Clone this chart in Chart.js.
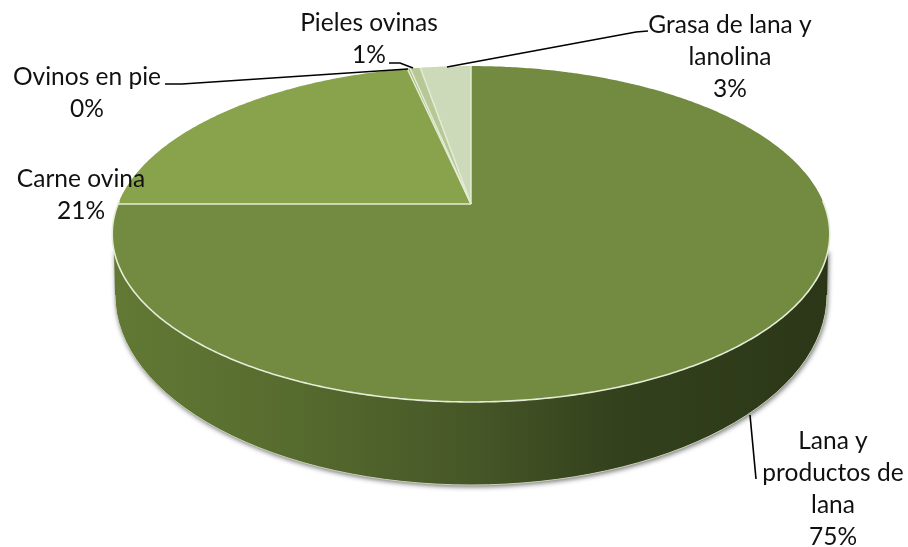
<!DOCTYPE html>
<html>
<head>
<meta charset="utf-8">
<title>Productos ovinos</title>
<script src="https://cdn.jsdelivr.net/npm/chart.js@4/dist/chart.umd.min.js"></script>
<style>
  html, body { margin: 0; padding: 0; background: #fff; }
  canvas { display: block; }
</style>
</head>
<body>
<canvas id="pie" width="908" height="547"></canvas>
<script>
// valores (en %), desde las 12 en sentido horario
const categories = ["Lana y productos de lana", "Carne ovina", "Ovinos en pie", "Pieles ovinas", "Grasa de lana y lanolina"];
const values = [75, 21.6, 0.15, 0.55, 2.7];
const percentLabels = ["75%", "21%", "0%", "1%", "3%"];
const sliceColors = ["#728b40", "#88a34b", "#a9bd7c", "#b7c896", "#cddab9"];

// etiquetas: lineas de texto y posicion (x centro, y base)
const labelLines = [
  ["Lana y", "productos de", "lana"],
  ["Carne ovina"],
  ["Ovinos en pie"],
  ["Pieles ovinas"],
  ["Grasa de lana y", "lanolina"]
];
const labelAnchors = [[833, 449], [81, 187], [87, 85], [369, 31], [730, 33]];
const lineHeight = 32;
const leaders = [
  [[750, 415], [756, 479]],
  [],
  [[165, 84], [182, 84], [408, 69]],
  [[389, 63], [400, 63], [413, 68]],
  [[447, 67], [636, 32], [648, 31]]
];

// proyeccion en perspectiva de la cara superior
const top3d = { cx: 471, cy: 204, a: 353, b: 162.6, k: 0.1786 };
// borde inferior del cilindro
const base3d = { cx: 471, cy: 295, rx: 356, ry: 190, rimY: 250 };

function project(angle) {
  const u = Math.cos(angle), v = Math.sin(angle);
  const w = 1 - top3d.k * v;
  return [top3d.cx + top3d.a * u / w, top3d.cy + top3d.b * v / w];
}

function traceRim(ctx, start, end, moveFirst) {
  const steps = Math.max(2, Math.ceil((end - start) / 0.01));
  for (let i = 0; i <= steps; i++) {
    const p = project(start + (end - start) * i / steps);
    if (i === 0 && moveFirst) ctx.moveTo(p[0], p[1]);
    else ctx.lineTo(p[0], p[1]);
  }
}

function drawSide(ctx) {
  const b = base3d;
  const grad = ctx.createLinearGradient(b.cx - b.rx, 0, b.cx + b.rx, 0);
  grad.addColorStop(0, "#627935");
  grad.addColorStop(0.25, "#566b2e");
  grad.addColorStop(0.5, "#465727");
  grad.addColorStop(0.7, "#34411d");
  grad.addColorStop(1, "#2b3717");

  ctx.save();
  ctx.beginPath();
  ctx.moveTo(b.cx - b.rx - 1, b.rimY);
  ctx.lineTo(b.cx - b.rx, b.cy);
  ctx.ellipse(b.cx, b.cy, b.rx, b.ry, 0, Math.PI, 0, true);
  ctx.lineTo(b.cx + b.rx + 1, b.rimY);
  ctx.closePath();
  ctx.shadowColor = "rgba(0,0,0,0.55)";
  ctx.shadowBlur = 5;
  ctx.shadowOffsetX = 1;
  ctx.shadowOffsetY = 2;
  ctx.fillStyle = grad;
  ctx.fill();
  ctx.restore();

  ctx.beginPath();
  ctx.moveTo(b.cx - b.rx, b.cy);
  ctx.ellipse(b.cx, b.cy, b.rx, b.ry, 0, Math.PI, 0, true);
  ctx.strokeStyle = "#c9d0b8";
  ctx.lineWidth = 1;
  ctx.stroke();
}

const pie3dPlugin = {
  id: "pie3d",
  beforeDatasetDraw(chart, args) {
    const ctx = chart.ctx;
    const arcs = chart.getDatasetMeta(args.index).data;
    drawSide(ctx);

    arcs.forEach((arc, i) => {
      ctx.beginPath();
      ctx.moveTo(top3d.cx, top3d.cy);
      traceRim(ctx, arc.startAngle, arc.endAngle, false);
      ctx.closePath();
      ctx.fillStyle = sliceColors[i];
      ctx.fill();
    });

    // separaciones claras entre sectores
    ctx.strokeStyle = "#e4ebd6";
    ctx.lineWidth = 1.5;
    arcs.forEach(arc => {
      const p = project(arc.startAngle);
      ctx.beginPath();
      ctx.moveTo(top3d.cx, top3d.cy);
      ctx.lineTo(p[0], p[1]);
      ctx.stroke();
    });

    // borde claro delantero de la cara superior
    ctx.beginPath();
    traceRim(ctx, -0.02, Math.PI + 0.02, true);
    ctx.strokeStyle = "#e6ecd8";
    ctx.lineWidth = 1.6;
    ctx.stroke();
    return false;
  },
  afterDraw(chart) {
    const ctx = chart.ctx;
    ctx.strokeStyle = "#000";
    ctx.lineWidth = 1.6;
    leaders.forEach(pts => {
      if (!pts.length) return;
      ctx.beginPath();
      pts.forEach((p, i) => i ? ctx.lineTo(p[0], p[1]) : ctx.moveTo(p[0], p[1]));
      ctx.stroke();
    });

    ctx.font = "24.5px Lato, 'Open Sans', sans-serif";
    ctx.fillStyle = "#111";
    ctx.textAlign = "center";
    ctx.textBaseline = "alphabetic";
    labelLines.forEach((lines, i) => {
      const [x, y] = labelAnchors[i];
      lines.forEach((t, n) => ctx.fillText(t, x, y + n * lineHeight));
      ctx.fillText(percentLabels[i], x, y + lines.length * lineHeight);
    });
  }
};

new Chart(document.getElementById("pie"), {
  type: "pie",
  data: {
    labels: categories,
    datasets: [{ data: values, backgroundColor: sliceColors, borderWidth: 0 }]
  },
  options: {
    responsive: false,
    animation: false,
    plugins: { legend: { display: false }, tooltip: { enabled: false } }
  },
  plugins: [pie3dPlugin]
});
</script>
</body>
</html>
